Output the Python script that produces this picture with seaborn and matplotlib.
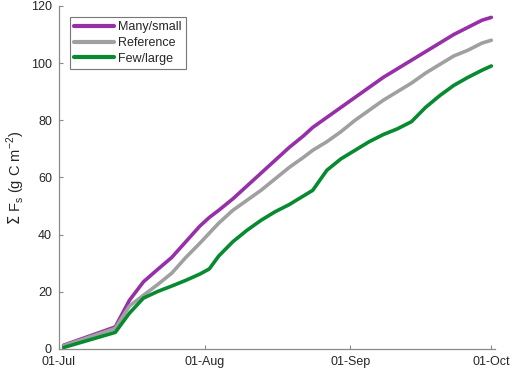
import seaborn as sns
import matplotlib.pyplot as plt
import matplotlib.dates as mdates
import pandas as pd
import numpy as np

# 1. DATA (days after 01-Jul, cumulative flux)
days = [1, 12, 15, 18, 21, 24, 27, 30, 32, 34, 37, 40, 43, 46, 49, 52, 54, 57,
        60, 63, 66, 69, 72, 75, 78, 81, 84, 87, 90, 92]
many_small = [1.3, 7.7, 17, 23.5, 27.8, 32, 37.5, 43, 46, 48.5, 52.5, 57, 61.5, 66,
              70.5, 74.5, 77.5, 81, 84.5, 88, 91.5, 95, 98, 101, 104, 107, 110,
              112.5, 115, 116]
reference = [1.1, 7.2, 15, 18.8, 22.5, 26.5, 32, 37, 40.5, 44, 48.5, 52, 55.5, 59.5,
             63.5, 67, 69.5, 72.5, 76, 80, 83.5, 87, 90, 93, 96.5, 99.5, 102.5,
             104.5, 107, 108]
few_large = [0.5, 5.8, 12.5, 17.8, 20.1, 22, 24, 26.2, 28, 32.5, 37.5, 41.5, 45, 48,
             50.5, 53.5, 55.5, 62.5, 66.5, 69.5, 72.5, 75, 77, 79.5, 84.5, 88.6, 92.2,
             95, 97.5, 99]

start = pd.Timestamp('2019-07-01')
dates = start + pd.to_timedelta(days, unit='D')
df = pd.concat([
    pd.DataFrame({'date': dates, 'flux': many_small, 'case': 'Many/small'}),
    pd.DataFrame({'date': dates, 'flux': reference, 'case': 'Reference'}),
    pd.DataFrame({'date': dates, 'flux': few_large, 'case': 'Few/large'}),
])

palette = {'Many/small': '#9730a8', 'Reference': '#a0a0a0', 'Few/large': '#078a30'}

# 2. FIGURE
sns.set_theme(style="white")
plt.rcParams['font.family'] = ['Liberation Sans', 'DejaVu Sans']
fig = plt.figure(figsize=(5.12, 3.72), dpi=100)
ax = fig.add_axes([0.115, 0.062, 0.852, 0.922])

sns.lineplot(data=df, x='date', y='flux', hue='case', palette=palette,
             linewidth=2.6, ax=ax)

# 3. AXES
ax.set_ylim(0, 120)
ax.set_xlim(start, start + pd.Timedelta(days=92.8))
ax.set_yticks(np.arange(0, 121, 20))
ax.xaxis.set_major_locator(mdates.MonthLocator())
ax.xaxis.set_major_formatter(mdates.DateFormatter('%d-%b'))
ax.set_xlabel('')
ax.set_ylabel(r'$\Sigma$ F$_\mathregular{s}$ (g C m$^\mathregular{-2}$)',
              fontsize=10.5, color='#262626', labelpad=3)

for side in ['top', 'right']:
    ax.spines[side].set_visible(False)
for side in ['left', 'bottom']:
    ax.spines[side].set_color('#8a8a8a')
    ax.spines[side].set_linewidth(0.9)
ax.tick_params(direction='in', length=3, width=0.8, color='#8a8a8a',
               labelsize=9, labelcolor='#262626')
ax.tick_params(axis='x', bottom=True, pad=5)
ax.tick_params(axis='y', left=True, pad=5)

# 4. LEGEND
leg = ax.legend(loc='upper left', fontsize=9, frameon=True, fancybox=False,
                handlelength=3.2, handletextpad=0.3, borderpad=0.35,
                labelspacing=0.3, borderaxespad=0,
                bbox_to_anchor=(0.025, 0.968))
leg.get_frame().set_edgecolor('#555555')
leg.get_frame().set_linewidth(0.8)
for line in leg.get_lines():
    line.set_linewidth(3)

fig.savefig('out.png', dpi=100)
